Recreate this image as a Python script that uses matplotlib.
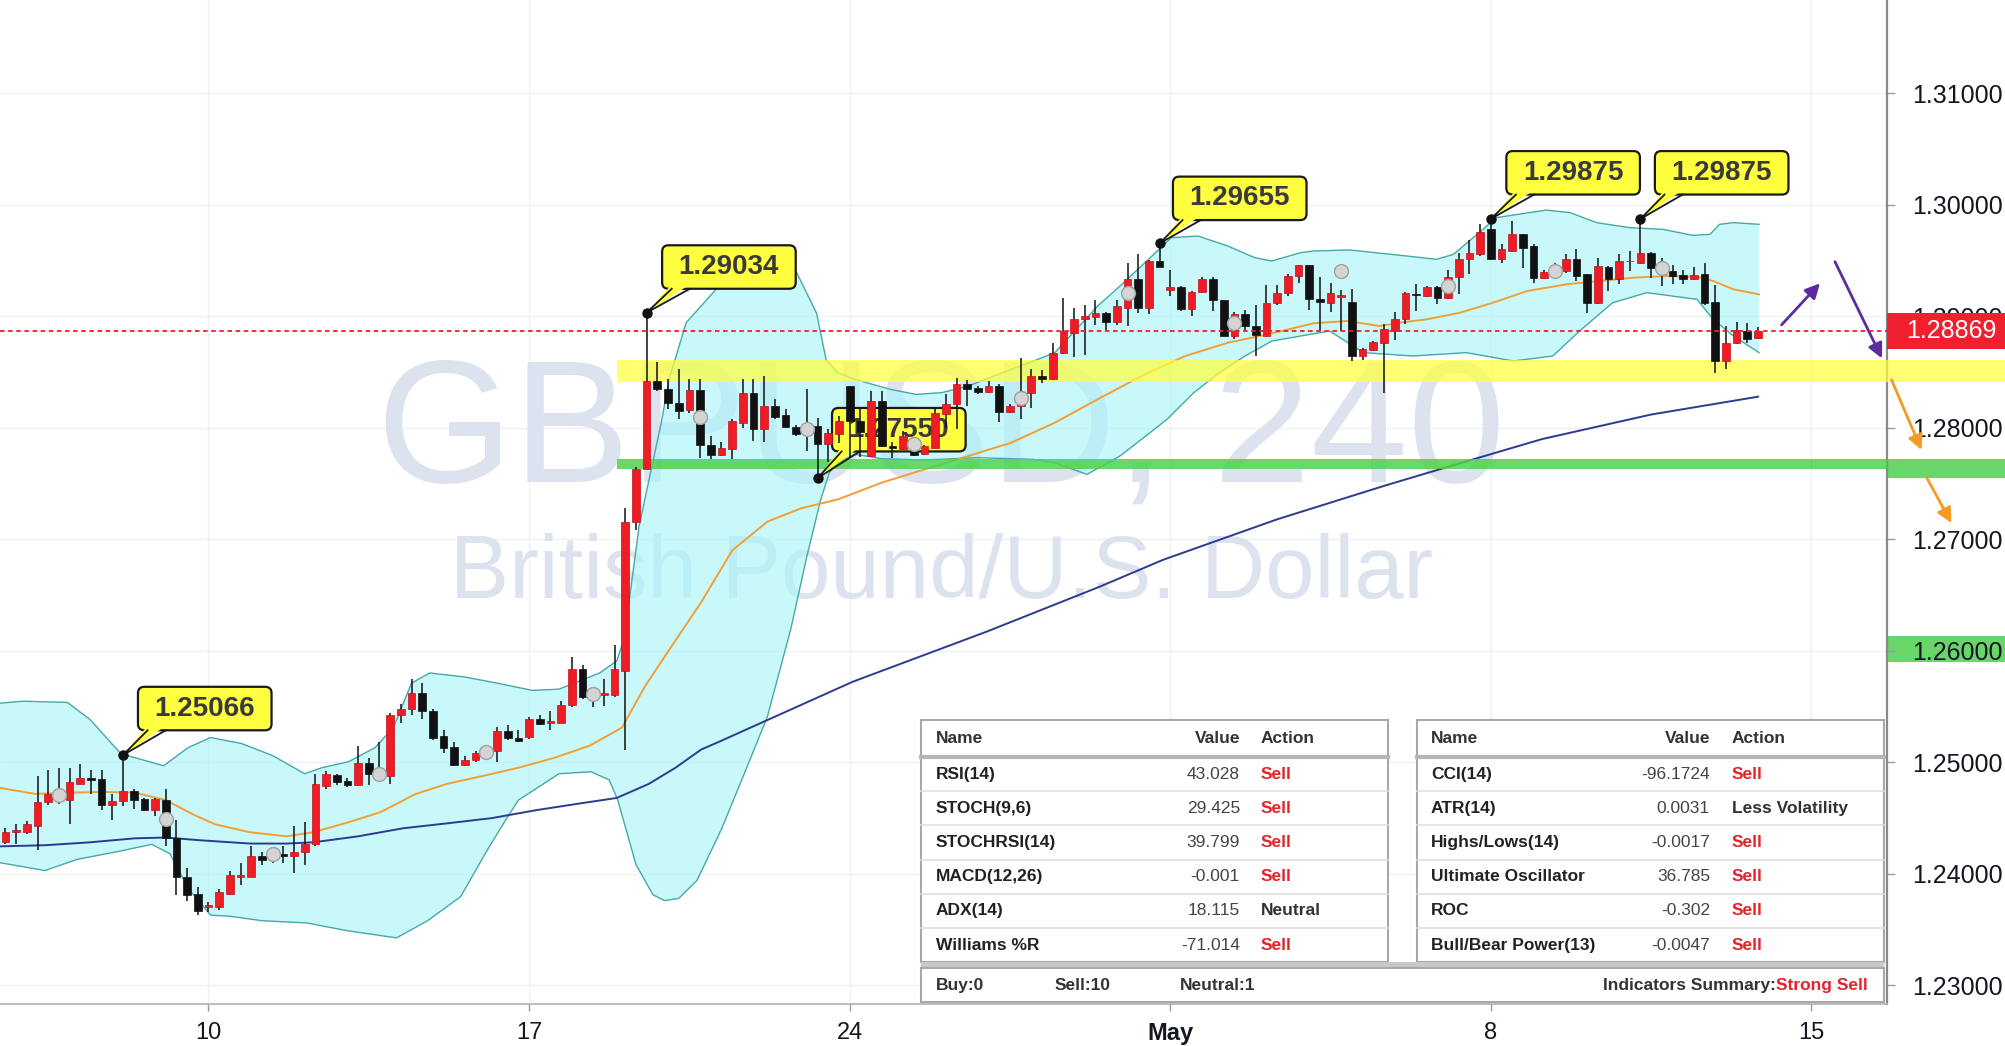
import numpy as np
import matplotlib
matplotlib.use("Agg")
import matplotlib.pyplot as plt
from matplotlib.patches import Rectangle, FancyBboxPatch, Polygon

plt.rcParams['font.family'] = ['Liberation Sans', 'DejaVu Sans']

# 4h candles, index 0 = first bar of Monday 10 April 2017
first_idx = -19
opens = [1.24283, 1.24373, 1.24380, 1.24427, 1.24644, 1.24717, 1.24662, 1.24807, 1.24861, 1.24850,
         1.24619, 1.24650, 1.24742, 1.24670, 1.24572, 1.24662, 1.24319, 1.23968, 1.23823, 1.23706,
         1.23706, 1.23823, 1.23975, 1.23975, 1.24163, 1.24150, 1.24181, 1.24156, 1.24192, 1.24265,
         1.24789, 1.24887, 1.24832, 1.24796, 1.24999, 1.24900, 1.24880, 1.25422, 1.25476, 1.25621,
         1.25465, 1.25241, 1.25140, 1.24981, 1.25024, 1.25080, 1.25104, 1.25285, 1.25220, 1.25230,
         1.25386, 1.25350, 1.25357, 1.25512, 1.25838, 1.25610, 1.25600, 1.25603, 1.25820, 1.27158,
         1.27628, 1.28424, 1.28352, 1.28225, 1.28157, 1.28337, 1.27843, 1.27754, 1.27810, 1.28047,
         1.28316, 1.27993, 1.28196, 1.28112, 1.28011, 1.27960, 1.28017, 1.27852, 1.27942, 1.28376,
         1.28060, 1.27748, 1.28241, 1.27837, 1.27810, 1.27870, 1.27763, 1.27822, 1.28121, 1.28211,
         1.28397, 1.28361, 1.28325, 1.28376, 1.28142, 1.28196, 1.28316, 1.28465, 1.28435, 1.28675,
         1.28848, 1.28980, 1.28998, 1.29027, 1.28950, 1.29078, 1.29332, 1.29078, 1.29497, 1.29237,
         1.29267, 1.29063, 1.29219, 1.29338, 1.29147, 1.28824, 1.29018, 1.28914, 1.28824, 1.29117,
         1.29207, 1.29362, 1.29458, 1.29159, 1.29123, 1.29170, 1.29129, 1.28645, 1.28699, 1.28764,
         1.28869, 1.28977, 1.29198, 1.29183, 1.29267, 1.29168, 1.29353, 1.29512, 1.29557, 1.29781,
         1.29512, 1.29587, 1.29736, 1.29632, 1.29347, 1.29400, 1.29407, 1.29512, 1.29377, 1.29117,
         1.29446, 1.29332, 1.29494, 1.29482, 1.29572, 1.29450, 1.29407, 1.29368, 1.29338, 1.29377,
         1.29129, 1.28600, 1.28758, 1.28869, 1.28809]
highs = [1.24410, 1.24445, 1.24470, 1.24879, 1.24934, 1.24952, 1.24952, 1.24988, 1.24934, 1.24934,
         1.24717, 1.25066, 1.24760, 1.24680, 1.24680, 1.24760, 1.24482, 1.24050, 1.23885, 1.23750,
         1.23860, 1.24029, 1.24100, 1.24246, 1.24200, 1.24240, 1.24250, 1.24427, 1.24463, 1.24898,
         1.24920, 1.24900, 1.24860, 1.25151, 1.25042, 1.25187, 1.25440, 1.25520, 1.25747, 1.25711,
         1.25480, 1.25295, 1.25180, 1.25061, 1.25100, 1.25140, 1.25313, 1.25331, 1.25295, 1.25410,
         1.25422, 1.25458, 1.25548, 1.25947, 1.25874, 1.25639, 1.25747, 1.26055, 1.27285, 1.27646,
         1.29034, 1.28591, 1.28442, 1.28530, 1.28441, 1.28435, 1.27930, 1.27870, 1.28077, 1.28435,
         1.28441, 1.28465, 1.28260, 1.28170, 1.28030, 1.28346, 1.28090, 1.27987, 1.28107, 1.28380,
         1.28170, 1.28330, 1.28330, 1.27870, 1.27970, 1.27920, 1.27850, 1.28180, 1.28300, 1.28450,
         1.28430, 1.28380, 1.28420, 1.28390, 1.28210, 1.28630, 1.28525, 1.28520, 1.28760, 1.29168,
         1.29078, 1.29100, 1.29150, 1.29040, 1.29150, 1.29480, 1.29557, 1.29510, 1.29655, 1.29420,
         1.29270, 1.29230, 1.29350, 1.29350, 1.29150, 1.29040, 1.29060, 1.29100, 1.29280, 1.29280,
         1.29380, 1.29460, 1.29465, 1.29356, 1.29300, 1.29240, 1.29243, 1.28720, 1.28780, 1.28929,
         1.29040, 1.29220, 1.29290, 1.29275, 1.29275, 1.29415, 1.29572, 1.29682, 1.29826, 1.29875,
         1.29650, 1.29856, 1.29740, 1.29650, 1.29420, 1.29482, 1.29557, 1.29601, 1.29380, 1.29527,
         1.29450, 1.29557, 1.29587, 1.29875, 1.29575, 1.29520, 1.29460, 1.29420, 1.29445, 1.29475,
         1.29280, 1.28914, 1.28950, 1.28938, 1.28908]
lows = [1.24270, 1.24265, 1.24360, 1.24210, 1.24620, 1.24626, 1.24445, 1.24807, 1.24717, 1.24572,
        1.24482, 1.24608, 1.24583, 1.24560, 1.24520, 1.24250, 1.23812, 1.23760, 1.23632, 1.23660,
        1.23680, 1.23812, 1.23900, 1.23975, 1.24080, 1.24100, 1.24100, 1.24011, 1.24084, 1.24246,
        1.24760, 1.24800, 1.24780, 1.24790, 1.24796, 1.24880, 1.24807, 1.25350, 1.25422, 1.25386,
        1.25200, 1.25080, 1.24970, 1.24970, 1.25000, 1.25050, 1.25006, 1.25205, 1.25180, 1.25210,
        1.25331, 1.25295, 1.25350, 1.25494, 1.25567, 1.25494, 1.25510, 1.25585, 1.25115, 1.27086,
        1.27628, 1.28334, 1.28171, 1.28080, 1.28130, 1.27733, 1.27720, 1.27750, 1.27720, 1.28002,
        1.27880, 1.27870, 1.28080, 1.28000, 1.27930, 1.27793, 1.27550, 1.27690, 1.27867, 1.27730,
        1.27740, 1.27740, 1.27830, 1.27730, 1.27800, 1.27750, 1.27760, 1.27820, 1.28000, 1.27990,
        1.28200, 1.28300, 1.28310, 1.28050, 1.28130, 1.28080, 1.28180, 1.28405, 1.28430, 1.28660,
        1.28640, 1.28650, 1.28920, 1.28880, 1.28920, 1.28910, 1.29030, 1.29020, 1.29440, 1.29180,
        1.29050, 1.29000, 1.29210, 1.29050, 1.28820, 1.28800, 1.28880, 1.28645, 1.28820, 1.29100,
        1.29180, 1.29300, 1.29060, 1.28869, 1.29040, 1.28870, 1.28600, 1.28610, 1.28690, 1.28316,
        1.28790, 1.28930, 1.29050, 1.29170, 1.29107, 1.29160, 1.29200, 1.29380, 1.29540, 1.29510,
        1.29480, 1.29580, 1.29437, 1.29302, 1.29340, 1.29347, 1.29390, 1.29317, 1.29027, 1.29110,
        1.29228, 1.29288, 1.29407, 1.29470, 1.29347, 1.29270, 1.29288, 1.29288, 1.29330, 1.29100,
        1.28490, 1.28531, 1.28750, 1.28758, 1.28800]
closes = [1.24373, 1.24391, 1.24445, 1.24644, 1.24717, 1.24690, 1.24825, 1.24861, 1.24843, 1.24619,
          1.24655, 1.24742, 1.24662, 1.24572, 1.24670, 1.24319, 1.23968, 1.23812, 1.23668, 1.23724,
          1.23838, 1.23986, 1.23993, 1.24163, 1.24127, 1.24180, 1.24163, 1.24199, 1.24272, 1.24807,
          1.24898, 1.24825, 1.24796, 1.24999, 1.24898, 1.24890, 1.25422, 1.25483, 1.25621, 1.25465,
          1.25223, 1.25125, 1.24981, 1.25024, 1.25080, 1.25100, 1.25285, 1.25223, 1.25194, 1.25386,
          1.25342, 1.25368, 1.25512, 1.25838, 1.25585, 1.25600, 1.25621, 1.25838, 1.27158, 1.27628,
          1.28424, 1.28352, 1.28225, 1.28153, 1.28337, 1.27843, 1.27754, 1.27823, 1.28061, 1.28316,
          1.27993, 1.28196, 1.28100, 1.28011, 1.27942, 1.27970, 1.27852, 1.27957, 1.28062, 1.28062,
          1.27960, 1.28241, 1.27837, 1.27822, 1.27927, 1.27760, 1.27837, 1.28136, 1.28211, 1.28397,
          1.28352, 1.28325, 1.28376, 1.28142, 1.28196, 1.28316, 1.28465, 1.28435, 1.28675, 1.28869,
          1.28980, 1.29004, 1.29027, 1.28950, 1.29093, 1.29332, 1.29078, 1.29497, 1.29446, 1.29267,
          1.29063, 1.29219, 1.29338, 1.29147, 1.28824, 1.29018, 1.28914, 1.28830, 1.29117, 1.29207,
          1.29362, 1.29458, 1.29153, 1.29129, 1.29207, 1.29190, 1.28645, 1.28705, 1.28770, 1.28890,
          1.28980, 1.29207, 1.29190, 1.29267, 1.29168, 1.29356, 1.29512, 1.29566, 1.29757, 1.29518,
          1.29602, 1.29736, 1.29617, 1.29347, 1.29398, 1.29420, 1.29512, 1.29362, 1.29117, 1.29452,
          1.29332, 1.29497, 1.29497, 1.29572, 1.29437, 1.29430, 1.29362, 1.29338, 1.29371, 1.29123,
          1.28600, 1.28758, 1.28878, 1.28800, 1.28869]

bb_up_x = [-19.5, -17.4, -13.2, -11.1, -8.2, -4.2, -1.9, 0.2, 3.1, 6.0, 9.0, 10.6, 13.1, 15.6, 17.3,
           19.0, 20.7, 24.0, 27.0, 30.3, 32.8, 36.6, 38.2, 38.9, 40.3, 42.4, 43.1, 44.7, 47.5, 51.0,
           55.0, 56.9, 57.8, 58.9, 60.5, 63.8, 66.2, 68.6, 71.1, 73.5, 77.2, 79.2, 81.2, 83.2, 85.3,
           87.3, 90.1, 92.6, 95.4, 97.9, 99.5, 102.2, 103.4, 106.8, 110.6, 112.7, 114.9, 116.5, 118.9,
           120.5, 123.6, 125.2, 127.4, 129.9, 133.0, 136.1, 138.9, 140.5, 141.4, 142.7, 145.1]
bb_up_y = [1.25531, 1.25549, 1.25538, 1.25386, 1.25078, 1.24970, 1.25133, 1.25223, 1.25169, 1.25061,
           1.24898, 1.24952, 1.25006, 1.25133, 1.25313, 1.25711, 1.25802, 1.25766, 1.25711, 1.25646,
           1.25657, 1.25802, 1.25910, 1.26109, 1.27122, 1.28062, 1.28435, 1.28944, 1.29243, 1.29480,
           1.29401, 1.29030, 1.28609, 1.28495, 1.28435, 1.28346, 1.28301, 1.28316, 1.28376, 1.28465,
           1.28600, 1.28675, 1.28884, 1.29093, 1.29273, 1.29452, 1.29706, 1.29721, 1.29631, 1.29527,
           1.29497, 1.29572, 1.29587, 1.29596, 1.29557, 1.29536, 1.29512, 1.29557, 1.29751, 1.29886,
           1.29931, 1.29954, 1.29931, 1.29841, 1.29796, 1.29781, 1.29727, 1.29736, 1.29826, 1.29841,
           1.29826]
bb_lo_x = [-19.5, -15.3, -12.3, -8.5, -5.3, -3.6, -1.9, 0.2, 2.0, 5.0, 9.2, 13.0, 17.6, 20.5, 23.6,
           26.0, 27.8, 29.0, 32.8, 35.8, 37.5, 38.3, 40.0, 41.6, 42.7, 44.0, 45.7, 48.0, 49.9, 52.3,
           54.5, 56.0, 57.3, 58.1, 58.9, 60.5, 63.0, 67.0, 71.9, 77.2, 79.2, 82.2, 85.3, 87.3, 89.7,
           92.2, 94.6, 97.0, 99.5, 102.2, 104.9, 108.1, 112.7, 117.7, 122.1, 125.8, 128.3, 131.4,
           134.6, 139.3, 140.8, 142.7, 145.1]
bb_lo_y = [1.24100, 1.24030, 1.24130, 1.24200, 1.24265, 1.24180, 1.23870, 1.23630, 1.23620, 1.23580,
           1.23560, 1.23490, 1.23426, 1.23580, 1.23796, 1.24200, 1.24482, 1.24662, 1.24898, 1.24916,
           1.24843, 1.24662, 1.24084, 1.23812, 1.23760, 1.23780, 1.23940, 1.24400, 1.24843, 1.25410,
           1.26200, 1.26850, 1.27360, 1.27600, 1.27688, 1.27763, 1.27724, 1.27712, 1.27733, 1.27718,
           1.27688, 1.27583, 1.27748, 1.27897, 1.28077, 1.28316, 1.28495, 1.28645, 1.28779, 1.28824,
           1.28869, 1.28675, 1.28645, 1.28675, 1.28600, 1.28645, 1.28869, 1.29123, 1.29213, 1.29153,
           1.28974, 1.28824, 1.28675]
ma_fast_x = [-19.5, -16.2, -13.2, -9.9, -6.9, -4.0, -1.5, 0.6, 3.9, 7.3, 9.8, 13.1, 16.1, 19.4, 22.3,
             25.7, 29.0, 32.4, 35.7, 38.7, 40.8, 43.3, 46.1, 49.0, 52.3, 55.5, 58.9, 63.0, 67.0, 71.1,
             75.1, 79.2, 83.2, 87.3, 91.4, 95.4, 99.5, 103.4, 106.5, 109.6, 111.5, 114.0, 117.1, 120.2,
             123.4, 127.1, 130.2, 133.3, 136.4, 139.3, 140.8, 142.7, 145.1]
ma_fast_y = [1.24771, 1.24717, 1.24728, 1.24735, 1.24728, 1.24662, 1.24536, 1.24445, 1.24373, 1.24337,
             1.24373, 1.24463, 1.24554, 1.24717, 1.24807, 1.24879, 1.24952, 1.25042, 1.25151, 1.25313,
             1.25675, 1.26037, 1.26435, 1.26900, 1.27160, 1.27280, 1.27359, 1.27509, 1.27628, 1.27748,
             1.27867, 1.28047, 1.28256, 1.28465, 1.28645, 1.28764, 1.28848, 1.28938, 1.28959, 1.28914,
             1.28944, 1.28974, 1.29033, 1.29123, 1.29228, 1.29288, 1.29318, 1.29347, 1.29362, 1.29356,
             1.29318, 1.29243, 1.29198]
ma_slow_x = [-19.5, -15.3, -11.1, -6.9, -4.0, -0.7, 3.9, 7.3, 9.8, 14.0, 18.2, 22.3, 26.5, 30.7, 34.9,
             38.2, 41.2, 43.7, 46.1, 47.8, 60.3, 72.8, 83.4, 89.3, 100.0, 110.0, 117.1, 124.8, 135.0, 145.0]
ma_slow_y = [1.24247, 1.24257, 1.24283, 1.24319, 1.24326, 1.24301, 1.24272, 1.24272, 1.24283, 1.24337,
             1.24409, 1.24453, 1.24500, 1.24572, 1.24634, 1.24681, 1.24807, 1.24952, 1.25115, 1.25186,
             1.25724, 1.26172, 1.26576, 1.26816, 1.27180, 1.27480, 1.27683, 1.27900, 1.28120, 1.28280]

# grey dots every 10 bars
dot_idx = [-14, -4, 6, 16, 26, 36, 46, 56, 66, 76, 86, 96, 106, 116, 126, 136]
dot_val = [1.24706, 1.24492, 1.24174, 1.24898, 1.25096, 1.25610, 1.28101, 1.27993, 1.27852, 1.28265,
           1.29213, 1.28944, 1.29407, 1.29273, 1.29407, 1.29437]

# callouts: marked bar, price, label centre
call_idx = [-8, 41, 57, 89, 120, 134]
call_val = [1.25066, 1.29034, 1.27550, 1.29655, 1.29875, 1.29875]
call_box_x = [-0.35, 48.7, 64.6, 96.5, 127.7, 141.6]
call_box_y = [1.25483, 1.29443, 1.27984, 1.30059, 1.30288, 1.30288]

last_price = 1.28869
yellow_zone = (1.28415, 1.28609)
green_zone = (1.27635, 1.27718)
zone_start = 38.2

week_idx = [0, 30, 60, 90, 120, 150]
week_labels = ['10', '17', '24', 'May', '8', '15']
price_ticks = [1.23, 1.24, 1.25, 1.26, 1.27, 1.28, 1.29, 1.30, 1.31]

# drawn arrows (start, end)
purple_arrows = [((147.2, 1.28924), (150.8, 1.29297)), ((152.2, 1.29491), (156.6, 1.28624))]
orange_arrows = [((157.5, 1.28430), (160.3, 1.27802)), ((160.8, 1.27551), (163.1, 1.27147))]

# indicator tables
t1_names = ['RSI(14)', 'STOCH(9,6)', 'STOCHRSI(14)', 'MACD(12,26)', 'ADX(14)', 'Williams %R']
t1_values = ['43.028', '29.425', '39.799', '-0.001', '18.115', '-71.014']
t1_actions = ['Sell', 'Sell', 'Sell', 'Sell', 'Neutral', 'Sell']
t2_names = ['CCI(14)', 'ATR(14)', 'Highs/Lows(14)', 'Ultimate Oscillator', 'ROC', 'Bull/Bear Power(13)']
t2_values = ['-96.1724', '0.0031', '-0.0017', '36.785', '-0.302', '-0.0047']
t2_actions = ['Sell', 'Less Volatility', 'Sell', 'Sell', 'Sell', 'Sell']
summary = ['Buy:0', 'Sell:10', 'Neutral:1']

RED = '#ee1c25'
fig = plt.figure(figsize=(20.06, 10.46), dpi=100)
fig.patch.set_facecolor('white')
ax = fig.add_axes([0, 42 / 1046, 1887 / 2006, 1004 / 1046])
ax.set_xlim(-19.51, 157.07)
ax.set_ylim(1.22833, 1.31838)

# watermark
ax.text(0.499, 0.520, 'GBPUSD, 240', transform=ax.transAxes, ha='center', va='baseline',
        fontsize=126, color='#dde3ee', zorder=0.8)
ax.text(0.499, 0.404, 'British Pound/U.S. Dollar', transform=ax.transAxes, ha='center',
        va='baseline', fontsize=64, color='#dde3ee', zorder=0.8)

# bollinger band
poly_x = np.concatenate([bb_up_x, bb_lo_x[::-1]])
poly_y = np.concatenate([bb_up_y, bb_lo_y[::-1]])
ax.fill(poly_x, poly_y, facecolor='#a8f5fa', alpha=0.62, edgecolor='none', zorder=1)
ax.plot(bb_up_x, bb_up_y, color='#45a9a6', lw=1, zorder=1.5)
ax.plot(bb_lo_x, bb_lo_y, color='#45a9a6', lw=1, zorder=1.5)
ax.plot(ma_fast_x, ma_fast_y, color='#f0a035', lw=1.4, zorder=2)
ax.plot(ma_slow_x, ma_slow_y, color='#2b3c8e', lw=1.4, zorder=2)

# support / resistance zones
right_edge = 157.07 + (2006 - 1887) / 10.686
ax.add_patch(Rectangle((zone_start, yellow_zone[0]), right_edge - zone_start,
                       yellow_zone[1] - yellow_zone[0], facecolor='#ffff3c', alpha=0.72,
                       edgecolor='none', zorder=2.6, clip_on=False))
ax.add_patch(Rectangle((zone_start, green_zone[0]), 157.07 - zone_start,
                       green_zone[1] - green_zone[0], facecolor='#4fd04f', alpha=0.85,
                       edgecolor='none', zorder=2.6, clip_on=False))
ytr = ax.get_yaxis_transform()
fx = 2006 / 1887
# price-scale highlights sit below the tick labels (axis zorder is 0.5 with axisbelow)
ax.add_patch(Rectangle((1.0, 1.2755), fx - 1.0, green_zone[1] - 1.2755, transform=ytr,
                       facecolor='#6ad66a', edgecolor='none', zorder=0.3, clip_on=False))
ax.add_patch(Rectangle((1.0, 1.2590), fx - 1.0, 0.0023, transform=ytr,
                       facecolor='#6ad66a', edgecolor='none', zorder=0.3, clip_on=False))

# callout boxes (under the candles)
asp = (1 / 11150) / (1 / 10.686)
bw, bh = 12.5, 0.0039
for px, py, cx, cy in zip(call_idx, call_val, call_box_x, call_box_y):
    left, bottom = cx - bw / 2, cy - bh / 2
    tail = [(left + 0.9, bottom + 0.0004), (left + 2.6, bottom + 0.0004), (px, py)]
    ax.add_patch(FancyBboxPatch((left, bottom), bw, bh,
                                boxstyle='round,pad=0,rounding_size=0.6', mutation_aspect=asp,
                                facecolor='#ffff40', edgecolor='#1a1a1a', lw=1.6, zorder=3))
    ax.add_patch(Polygon(tail, closed=True, facecolor='#ffff40', edgecolor='none', zorder=3.1))
    ax.plot([left + 0.9, px, left + 2.6], [bottom, py, bottom], color='#1a1a1a', lw=1.3, zorder=3.2)
    ax.text(cx, cy, '%.5f' % py, ha='center', va='center', fontsize=20, fontweight='bold',
            color='#3a3a3a', zorder=3.3)

# candles
idx = np.arange(first_idx, first_idx + len(opens))
o, h, l, c = map(np.array, (opens, highs, lows, closes))
up = c >= o
ax.vlines(idx, l, h, color='#111111', lw=1.1, zorder=4)
body_lo = np.minimum(o, c)
body_h = np.maximum(np.abs(c - o), 0.00004)
ax.bar(idx[up], body_h[up], bottom=body_lo[up], width=0.72, color=RED, edgecolor='#c0101a',
       lw=0.5, zorder=5)
ax.bar(idx[~up], body_h[~up], bottom=body_lo[~up], width=0.72, color='#111111',
       edgecolor='#111111', lw=0.5, zorder=5)
ax.plot(dot_idx, dot_val, 'o', ms=10, mfc='#d4d4d4', mec='#a0a0a0', mew=1, zorder=6)
ax.plot(call_idx, call_val, 'o', ms=6.5, color='#111111', zorder=6)

# last price line and label
ax.axhline(last_price, color='#e8202a', lw=1.3, ls=(0, (2.5, 2)), zorder=7)
ax.add_patch(Rectangle((1.0, 1.28710), fx - 1.0, 0.0032, transform=ytr, facecolor='#f0202f',
                       edgecolor='none', zorder=8, clip_on=False))
ax.text(1906 / 1887, last_price, '%.5f' % last_price, transform=ytr, ha='left', va='center',
        fontsize=18, color='white', zorder=9, clip_on=False)

# arrows
for (s, e) in purple_arrows:
    ax.annotate('', xy=e, xytext=s, annotation_clip=False,
                arrowprops=dict(arrowstyle='-|>', color='#5b2b9f', lw=2, mutation_scale=22,
                                shrinkA=0, shrinkB=0))
for (s, e) in orange_arrows:
    ax.annotate('', xy=e, xytext=s, annotation_clip=False,
                arrowprops=dict(arrowstyle='-|>', color='#f59a23', lw=2, mutation_scale=22,
                                shrinkA=0, shrinkB=0))

# axes styling
ax.set_facecolor('white')
ax.set_axisbelow(True)
ax.grid(True, color='#eef0f4', lw=1)
ax.yaxis.tick_right()
ax.set_yticks(price_ticks)
ax.set_yticklabels(['%.5f' % v for v in price_ticks])
ax.set_xticks(week_idx)
ax.set_xticklabels(week_labels)
ax.get_xticklabels()[3].set_fontweight('bold')
ax.tick_params(axis='y', length=6, width=1, color='#999999', pad=12, labelsize=18,
               labelcolor='#131722')
ax.tick_params(axis='x', length=5, width=1, color='#999999', pad=8, labelsize=17,
               labelcolor='#131722')
for side in ('left', 'top'):
    ax.spines[side].set_visible(False)
ax.spines['right'].set_color('#8a8a8a')
ax.spines['right'].set_linewidth(1.6)
ax.spines['bottom'].set_color('#b0b0b0')
ax.spines['bottom'].set_linewidth(1.2)

# ---- indicator tables, laid out in pixel coordinates on an overlay
tab = fig.add_axes([0, 0, 1, 1], zorder=10)
tab.set_xlim(0, 2006)
tab.set_ylim(1046, 0)
tab.axis('off')
tab.patch.set_alpha(0)

head_top, head_bot, row_h = 720, 757, 34.2
rows_bot = head_bot + 6 * row_h


def action_color(a):
    return '#e3242b' if a == 'Sell' else '#333333'


def draw_table(x0, x1, names, values, actions, name_x, value_x, action_x):
    tab.add_patch(Rectangle((x0, head_top), x1 - x0, rows_bot - head_top, facecolor='white',
                            edgecolor='#a8a8a8', lw=1.5))
    tab.plot([x0, x1], [head_bot, head_bot], color='#b4b4b4', lw=3)
    for k in range(1, 6):
        y = head_bot + k * row_h
        tab.plot([x0, x1], [y, y], color='#dedede', lw=1.2)
    yh = (head_top + head_bot) / 2
    tab.text(name_x, yh, 'Name', ha='left', va='center', fontsize=12.5, fontweight='bold', color='#333333')
    tab.text(value_x, yh, 'Value', ha='right', va='center', fontsize=12.5, fontweight='bold', color='#333333')
    tab.text(action_x, yh, 'Action', ha='left', va='center', fontsize=12.5, fontweight='bold', color='#333333')
    for k, (n, v, a) in enumerate(zip(names, values, actions)):
        y = head_bot + (k + 0.5) * row_h
        tab.text(name_x, y, n, ha='left', va='center', fontsize=12.5, fontweight='bold', color='#222222')
        tab.text(value_x, y, v, ha='right', va='center', fontsize=12.5, color='#444444')
        tab.text(action_x, y, a, ha='left', va='center', fontsize=12.5, fontweight='bold',
                 color=action_color(a))


draw_table(921, 1388, t1_names, t1_values, t1_actions, 936, 1240, 1261)
draw_table(1417, 1884, t2_names, t2_values, t2_actions, 1431, 1710, 1732)

tab.add_patch(Rectangle((921, rows_bot), 963, 6, facecolor='#c8c8c8', edgecolor='none'))
tab.add_patch(Rectangle((921, rows_bot + 6), 963, 34, facecolor='white', edgecolor='#a8a8a8', lw=1.5))
ys = rows_bot + 6 + 17
for sx, s in zip([936, 1055, 1180], summary):
    tab.text(sx, ys, s, ha='left', va='center', fontsize=12.5, fontweight='bold', color='#333333')
strong = tab.text(1868, ys, 'Strong Sell', ha='right', va='center', fontsize=12.5,
                  fontweight='bold', color='#e3242b')
renderer = fig.canvas.get_renderer()
bb = strong.get_window_extent(renderer=renderer)
tab.text(1868 - bb.width, ys, 'Indicators Summary:', ha='right', va='center', fontsize=12.5,
         fontweight='bold', color='#333333')

fig.savefig('out.png', dpi=100, facecolor='white')
